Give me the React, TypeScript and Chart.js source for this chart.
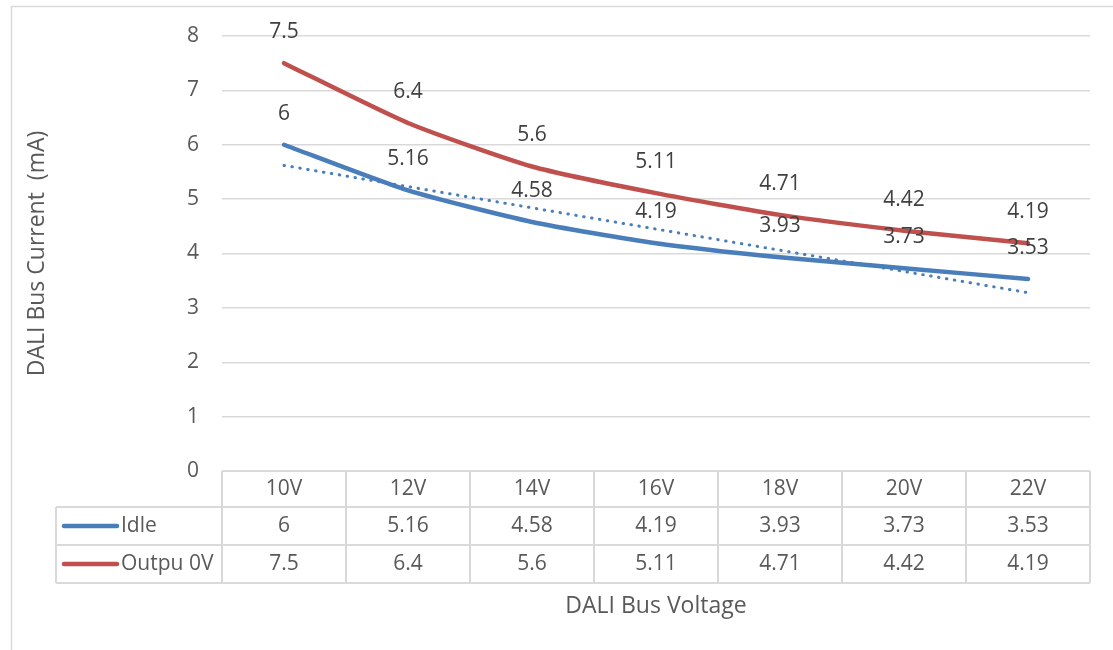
import React, { useEffect, useRef } from "react";
import { Chart, registerables } from "chart.js";

Chart.register(...registerables);

const categories = ["10V", "12V", "14V", "16V", "18V", "20V", "22V"];
const seriesNames = ["Idle", "Outpu 0V"];
const idleValues = [6, 5.16, 4.58, 4.19, 3.93, 3.73, 3.53];
const output0VValues = [7.5, 6.4, 5.6, 5.11, 4.71, 4.42, 4.19];
// Linear trendline of "Idle"
const idleTrendValues = [5.62, 5.23, 4.84, 4.45, 4.06, 3.67, 3.28];
const yAxisTitle = "DALI Bus Current  (mA)";
const xAxisTitle = "DALI Bus Voltage";

const FONT = "'Open Sans', 'Liberation Sans', sans-serif";
const BLUE = "#4A7EBB";
const RED = "#C0504D";
const GRID = "#D9D9D9";
const TEXT = "#595959";
const LABEL = "#404040";

const tablePlugin = {
  id: "excelDataTable",
  beforeDraw(chart: any) {
    const { ctx } = chart;
    ctx.save();
    ctx.fillStyle = "#ffffff";
    ctx.fillRect(0, 0, chart.width, chart.height);
    ctx.strokeStyle = GRID;
    ctx.lineWidth = 1.5;
    ctx.strokeRect(11.5, 6.5, chart.width + 50, chart.height + 50);
    ctx.restore();
  },
  afterDatasetsDraw(chart: any) {
    const { ctx, chartArea, scales } = chart;
    const x = scales.x;
    const y = scales.y;
    const series = [idleValues, output0VValues];
    const colors = [BLUE, RED];

    // data labels
    ctx.save();
    ctx.font = `21px ${FONT}`;
    ctx.fillStyle = LABEL;
    ctx.textAlign = "center";
    ctx.textBaseline = "middle";
    series.forEach((arr) => {
      arr.forEach((v, i) => {
        ctx.fillText(String(v), x.getPixelForValue(i), y.getPixelForValue(v) - 31);
      });
    });
    ctx.restore();

    // data table
    const left = chartArea.left;
    const right = chartArea.right;
    const step = (right - left) / categories.length;
    const legendLeft = 56;
    const rows = [chartArea.bottom, chartArea.bottom + 36, chartArea.bottom + 74, chartArea.bottom + 112];

    ctx.save();
    ctx.strokeStyle = GRID;
    ctx.lineWidth = 2;
    ctx.beginPath();
    ctx.moveTo(left, rows[0]);
    ctx.lineTo(right, rows[0]);
    for (let r = 1; r < rows.length; r++) {
      ctx.moveTo(legendLeft, rows[r]);
      ctx.lineTo(right, rows[r]);
    }
    for (let k = 0; k <= categories.length; k++) {
      const cx = left + k * step;
      ctx.moveTo(cx, rows[0]);
      ctx.lineTo(cx, rows[3]);
    }
    ctx.moveTo(legendLeft, rows[1]);
    ctx.lineTo(legendLeft, rows[3]);
    ctx.stroke();

    ctx.font = `21px ${FONT}`;
    ctx.fillStyle = TEXT;
    ctx.textAlign = "center";
    ctx.textBaseline = "middle";
    categories.forEach((c, i) => {
      ctx.fillText(c, x.getPixelForValue(i), (rows[0] + rows[1]) / 2);
    });
    series.forEach((arr, r) => {
      const cy = (rows[r + 1] + rows[r + 2]) / 2;
      arr.forEach((v, i) => {
        ctx.fillText(String(v), x.getPixelForValue(i), cy);
      });
      ctx.save();
      ctx.strokeStyle = colors[r];
      ctx.lineWidth = 4.5;
      ctx.lineCap = "round";
      ctx.beginPath();
      ctx.moveTo(64, cy);
      ctx.lineTo(117, cy);
      ctx.stroke();
      ctx.restore();
      ctx.textAlign = "left";
      ctx.fillText(seriesNames[r], 121, cy);
      ctx.textAlign = "center";
    });
    ctx.restore();
  },
};

export default function App() {
  const canvasRef = useRef<HTMLCanvasElement | null>(null);

  useEffect(() => {
    if (!canvasRef.current) return;
    const chart = new Chart(canvasRef.current, {
      type: "line",
      data: {
        labels: categories,
        datasets: [
          {
            label: "Linear (Idle)",
            data: idleTrendValues,
            borderColor: BLUE,
            borderWidth: 3,
            borderDash: [0.5, 7.5],
            borderCapStyle: "round",
            pointRadius: 0,
            tension: 0,
            order: 0,
          },
          {
            label: seriesNames[0],
            data: idleValues,
            borderColor: BLUE,
            borderWidth: 4.5,
            borderCapStyle: "round",
            pointRadius: 0,
            tension: 0.2,
            order: 1,
          },
          {
            label: seriesNames[1],
            data: output0VValues,
            borderColor: RED,
            borderWidth: 4.5,
            borderCapStyle: "round",
            pointRadius: 0,
            tension: 0.2,
            order: 2,
          },
        ],
      },
      options: {
        responsive: false,
        animation: false,
        layout: { padding: { left: 0, top: 36, right: 23, bottom: 0 } },
        plugins: { legend: { display: false }, tooltip: { enabled: false } },
        scales: {
          x: {
            offset: true,
            grid: { display: false },
            border: { display: false },
            ticks: { display: false },
            title: {
              display: true,
              text: xAxisTitle,
              color: TEXT,
              font: { family: FONT, size: 23 },
              padding: { top: 0, bottom: 30 },
            },
            afterFit: (scale: any) => {
              scale.height = 179;
            },
          },
          y: {
            min: 0,
            max: 8,
            ticks: {
              stepSize: 1,
              color: TEXT,
              font: { family: FONT, size: 21 },
              padding: 23,
            },
            grid: { color: GRID, lineWidth: 1.5, drawTicks: false },
            border: { display: false },
            title: {
              display: true,
              text: yAxisTitle,
              color: TEXT,
              font: { family: FONT, size: 23 },
              padding: { top: 24, bottom: 0 },
            },
            afterFit: (scale: any) => {
              scale.width = 222;
            },
          },
        },
      },
      plugins: [tablePlugin],
    });
    return () => chart.destroy();
  }, []);

  return (
    <div style={{ position: "fixed", left: 0, top: 0, width: 1113, height: 650, background: "#fff" }}>
      <canvas ref={canvasRef} width={1113} height={650} style={{ display: "block" }} />
    </div>
  );
}
